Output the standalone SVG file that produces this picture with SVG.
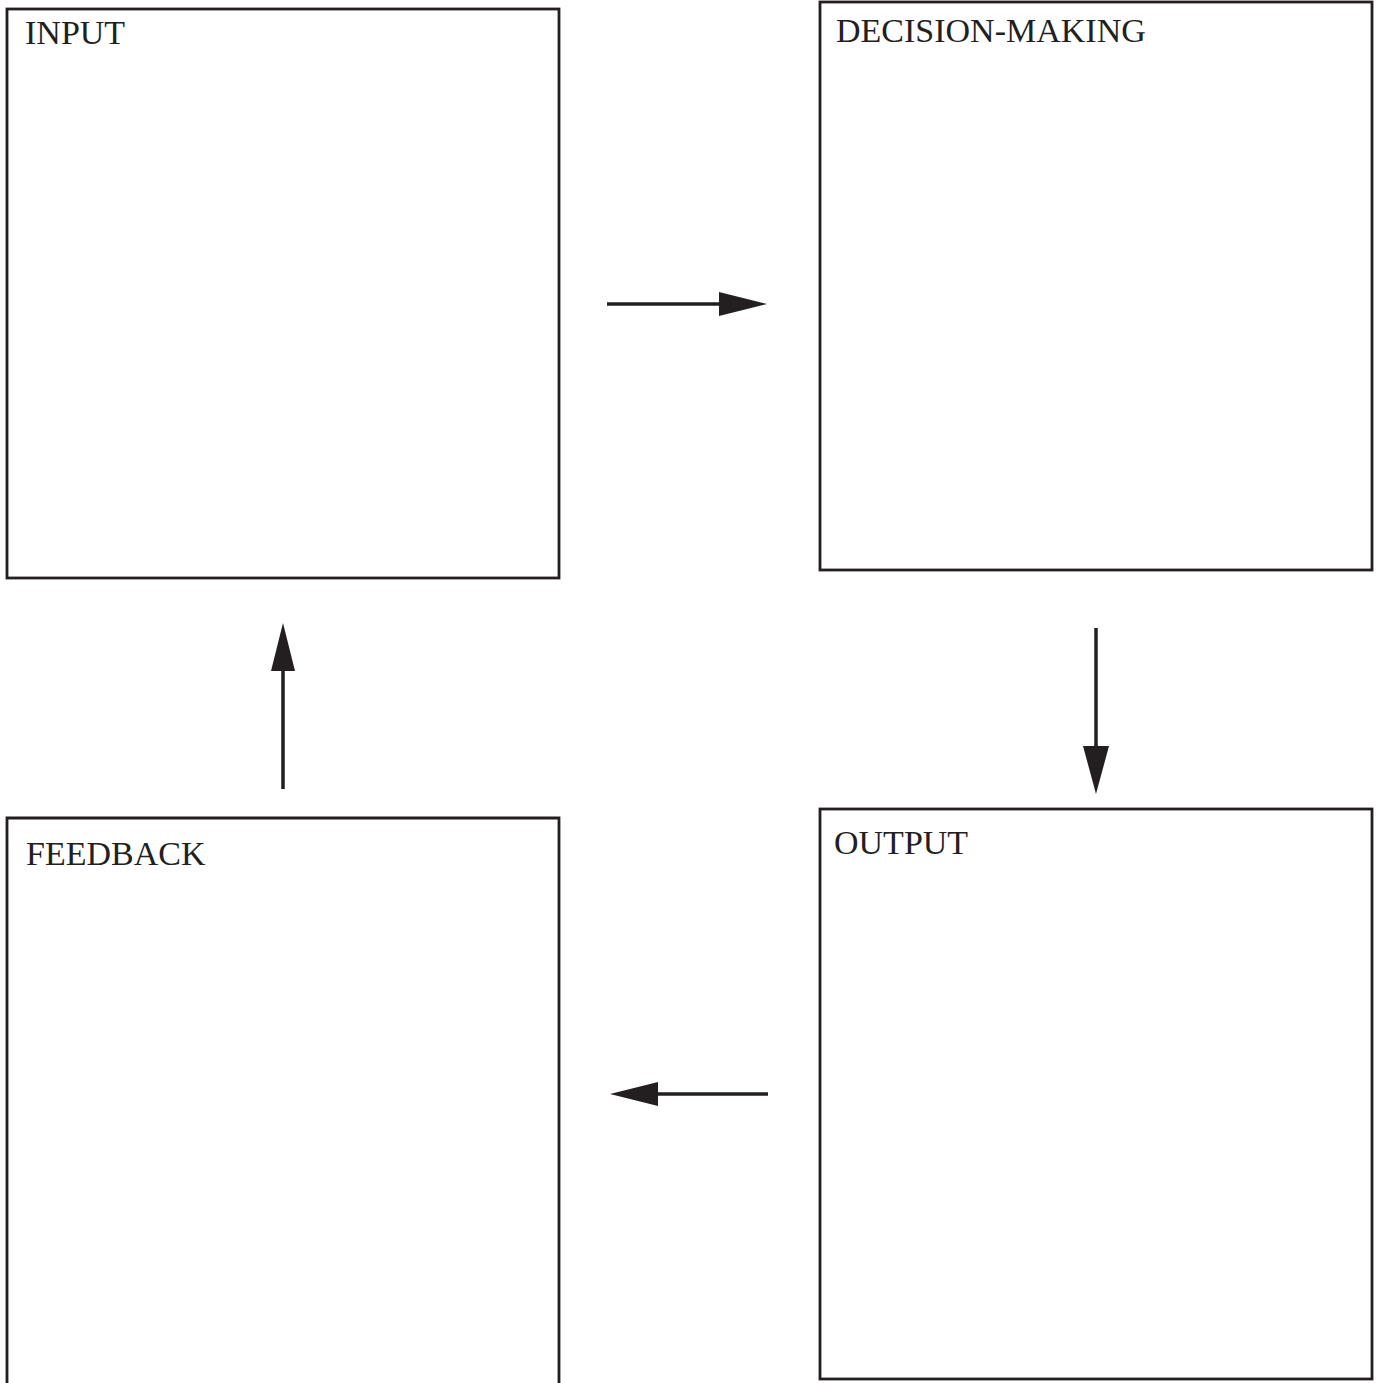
<svg xmlns="http://www.w3.org/2000/svg" width="1383" height="1383" viewBox="0 0 1383 1383">
<style>
.box{fill:#fff;stroke:#231f20;stroke-width:2.8}
.lbl{font-family:"Liberation Serif",serif;font-size:34px;fill:#231f20}
.con{stroke:#231f20;stroke-width:3.5;fill:none}
.head{fill:#231f20}
</style>
<rect width="1383" height="1383" fill="#fff"/>
<g id="input"><rect class="box" x="7" y="9" width="552" height="569"/><text class="lbl" x="25" y="44">INPUT</text></g>
<g id="decision"><rect class="box" x="820" y="2" width="552" height="568"/><text class="lbl" x="836" y="42">DECISION-MAKING</text></g>
<g id="feedback"><path class="box" d="M7,1390 V818 H559 V1390"/><text class="lbl" x="26" y="865">FEEDBACK</text></g>
<g id="output"><rect class="box" x="820" y="809" width="552" height="570"/><text class="lbl" x="834" y="854">OUTPUT</text></g>
<g id="connectors">
<line class="con" x1="607" y1="304" x2="722" y2="304"/><polygon class="head" points="719,292 767,304 719,316"/>
<line class="con" x1="1096" y1="628" x2="1096" y2="750"/><polygon class="head" points="1083,746 1096,794 1109,746"/>
<line class="con" x1="768" y1="1094" x2="655" y2="1094"/><polygon class="head" points="658,1082 610,1094 658,1106"/>
<line class="con" x1="283" y1="789" x2="283" y2="668"/><polygon class="head" points="271,671 283,623 295,671"/>
</g>
</svg>
